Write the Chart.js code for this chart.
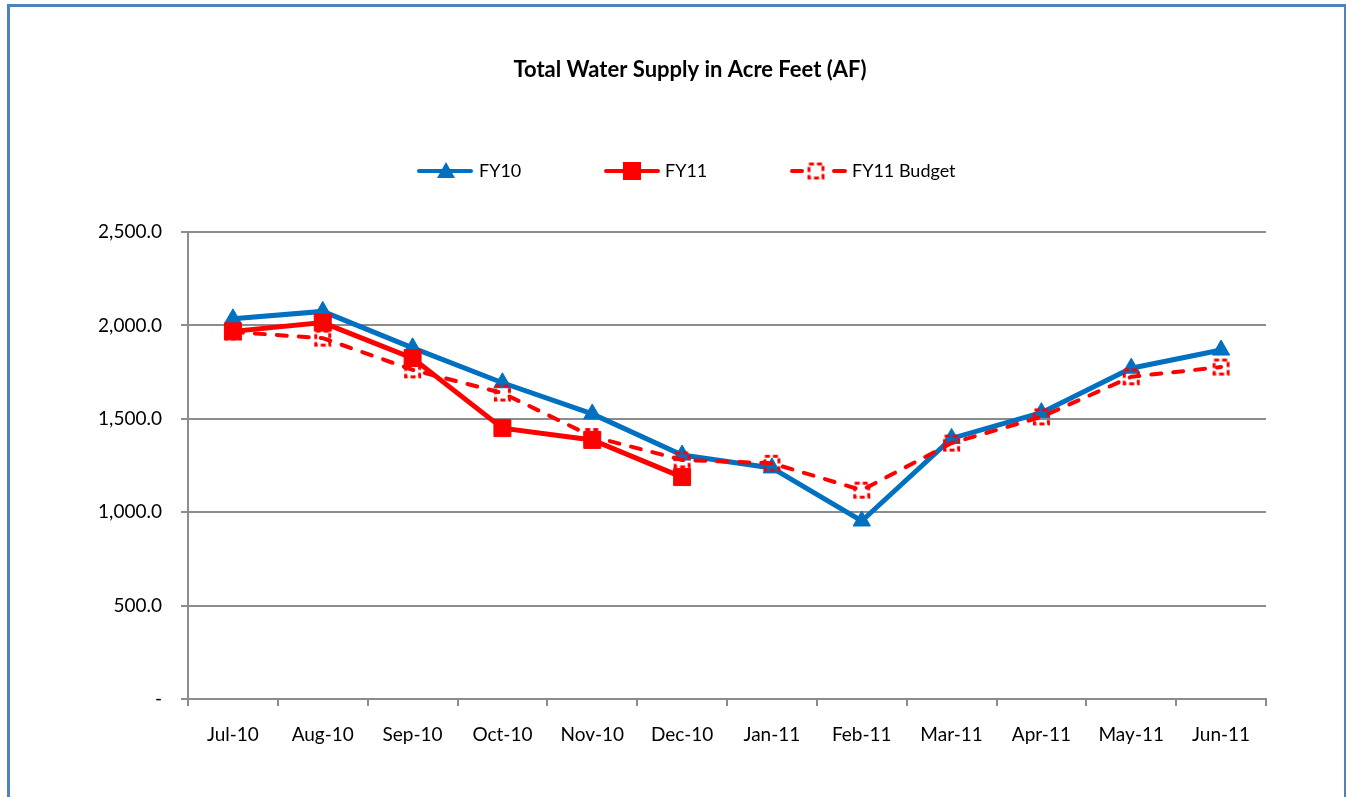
<!DOCTYPE html>
<html><head><meta charset="utf-8">
<script src="https://cdn.jsdelivr.net/npm/chart.js@4/dist/chart.umd.min.js"></script>
<style>
html,body{margin:0;padding:0;background:#fff;width:1346px;height:797px;overflow:hidden;}
#frame{position:absolute;left:7px;top:4px;width:1334px;height:820px;border:3px solid #4F81BD;box-sizing:content-box;}
#wrap{position:absolute;left:0;top:0;width:1346px;height:797px;}
</style></head><body>
<div id="frame"></div>
<div id="wrap"><canvas id="c" width="1346" height="797"></canvas></div>
<script>
const categories = ["Jul-10","Aug-10","Sep-10","Oct-10","Nov-10","Dec-10","Jan-11","Feb-11","Mar-11","Apr-11","May-11","Jun-11"];
const fy10 = [2035, 2075, 1880, 1693, 1526, 1306, 1237, 953, 1395, 1533, 1771, 1868];
const fy11 = [1968, 2015, 1825, 1450, 1387, 1188, null, null, null, null, null, null];
const fy11Budget = [1965, 1932, 1762, 1638, 1405, 1280, 1262, 1118, 1370, 1510, 1725, 1777];
const yTicks = [0, 500, 1000, 1500, 2000, 2500];
const titleText = "Total Water Supply in Acre Feet (AF)";

const FONT = "Lato, 'Liberation Sans', sans-serif";
const BLUE = "#0070C0", RED = "#FF0000", GRID = "#8C8C8C";

function budgetMarker(size){
  const cv = document.createElement('canvas');
  cv.width = size; cv.height = size;
  const g = cv.getContext('2d');
  g.strokeStyle = RED; g.lineWidth = 3; g.setLineDash([5,3]);
  g.strokeRect(2.5, 2.5, size-5, size-5);
  return cv;
}
const bm = budgetMarker(19);

const overlay = {
  id:'overlay',
  afterDraw(chart){
    const ctx = chart.ctx;
    ctx.save();
    ctx.fillStyle = '#000';
    ctx.font = "bold 22px " + FONT;
    ctx.textAlign = 'center'; ctx.textBaseline = 'middle';
    ctx.fillText(titleText, 690, 70);
    // legend
    ctx.font = "18px " + FONT;
    ctx.textAlign = 'left';
    const ly = 171;
    ctx.lineCap = 'round';
    // FY10
    ctx.strokeStyle = BLUE; ctx.lineWidth = 4;
    ctx.beginPath(); ctx.moveTo(419, ly); ctx.lineTo(471, ly); ctx.stroke();
    ctx.fillStyle = BLUE;
    ctx.beginPath(); ctx.moveTo(446, ly-9); ctx.lineTo(455, ly+7); ctx.lineTo(437, ly+7); ctx.closePath(); ctx.fill();
    ctx.fillStyle = '#000'; ctx.fillText("FY10", 479, ly);
    // FY11
    ctx.strokeStyle = RED;
    ctx.beginPath(); ctx.moveTo(606, ly); ctx.lineTo(658, ly); ctx.stroke();
    ctx.fillStyle = RED; ctx.fillRect(623, ly-9, 18, 18);
    ctx.fillStyle = '#000'; ctx.fillText("FY11", 665, ly);
    // Budget
    ctx.strokeStyle = RED;
    ctx.beginPath(); ctx.moveTo(792, ly); ctx.lineTo(802, ly); ctx.moveTo(834, ly); ctx.lineTo(845, ly); ctx.stroke();
    ctx.drawImage(bm, 816 - 9.5, ly - 9.5);
    ctx.fillStyle = '#000'; ctx.fillText("FY11 Budget", 852, ly);
    ctx.restore();
  }
};

new Chart(document.getElementById('c'), {
  type:'line',
  data:{
    labels: categories,
    datasets:[
      {label:'FY10', data: fy10, borderColor: BLUE, backgroundColor: BLUE, borderWidth:5,
       pointStyle:'triangle', pointRadius:10, pointBorderWidth:1, pointBackgroundColor: BLUE, pointBorderColor: BLUE, tension:0, order:3},
      {label:'FY11', data: fy11, borderColor: RED, backgroundColor: RED, borderWidth:5,
       pointStyle:'rect', pointRadius:12, pointBorderWidth:1, pointBackgroundColor: RED, pointBorderColor: RED, tension:0, order:2, spanGaps:false},
      {label:'FY11 Budget', data: fy11Budget, borderColor: RED, backgroundColor: RED, borderWidth:4,
       borderDash:[10,12], borderCapStyle:'round', pointStyle: bm, pointRadius:9, tension:0, order:1}
    ]
  },
  options:{
    responsive:false, animation:false,
    layout:{padding:{left:0, right:80, top:232, bottom:0}},
    plugins:{legend:{display:false}, title:{display:false}, tooltip:{enabled:false}},
    scales:{
      x:{
        offset:true,
        grid:{offset:true, drawOnChartArea:false, color:GRID, lineWidth:2, tickLength:7, tickColor:GRID},
        border:{color:GRID, width:2},
        ticks:{color:'#000', font:{family:FONT, size:19}, padding:17, maxRotation:0, autoSkip:false},
        afterFit(s){ s.height = 98; }
      },
      y:{
        min:0, max:2500,
        afterBuildTicks(s){ s.ticks = yTicks.map(v=>({value:v})); },
        grid:{color:GRID, lineWidth:2, tickLength:7, tickColor:GRID},
        border:{color:GRID, width:2},
        ticks:{color:'#000', font:{family:FONT, size:19}, padding:19,
          callback(v){ return v === 0 ? '-' : v.toLocaleString('en-US',{minimumFractionDigits:1, maximumFractionDigits:1}); }},
        afterFit(s){ s.width = 188; }
      }
    }
  },
  plugins:[overlay]
});
</script>
</body></html>
